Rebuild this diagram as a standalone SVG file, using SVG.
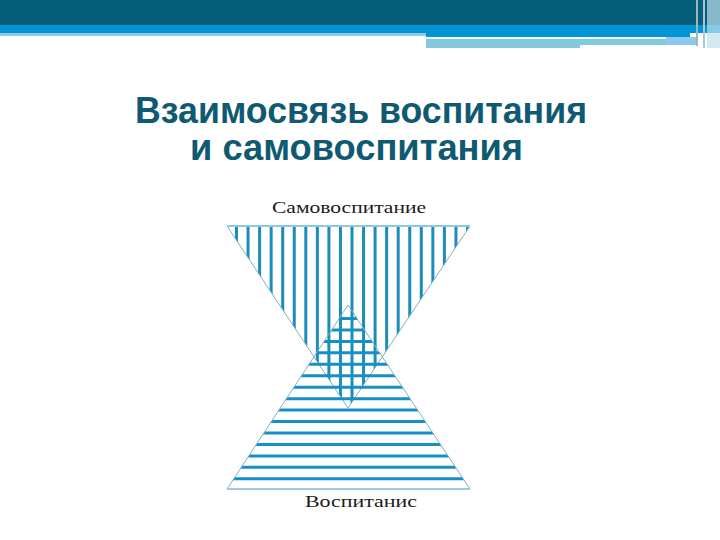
<svg xmlns="http://www.w3.org/2000/svg" width="720" height="540" viewBox="0 0 720 540">
<style>
.title{font-family:"Liberation Sans",Arial,sans-serif;font-weight:bold;font-size:36px;fill:#0f5a72;text-anchor:middle}
.lbl{font-family:"Liberation Serif","Times New Roman",serif;font-size:17px;fill:#1a1a1a;text-anchor:middle}
.vs{stroke:#1b8db8;stroke-width:3}
.hs{stroke:#1590c6;stroke-width:3}
.edge{fill:none;stroke:#7fb0c4;stroke-width:1}
</style>
<defs>
<clipPath id="cDown"><polygon points="227,226 470,226 348,408"/></clipPath>
<clipPath id="cUp"><polygon points="348,305 470,489 227,489"/></clipPath>
</defs>
<rect width="720" height="540" fill="#fff"/>
<g id="header">
<rect x="0" y="0" width="720" height="25" fill="#065e7a"/>
<rect x="0" y="25" width="720" height="8" fill="#0096d6"/>
<rect x="0" y="33" width="426" height="3" fill="#8ccbe6"/>
<rect x="426" y="33" width="264" height="4" fill="#0096d6"/>
<rect x="426" y="39" width="240" height="6" fill="#7fcbe0"/>
<rect x="426" y="45" width="154" height="3" fill="#8cc4e0"/>
<rect x="666" y="37" width="30" height="8" fill="#8fc8ec"/>
<rect x="696" y="0" width="2" height="46" fill="#9ab8c4"/>
<rect x="703" y="0" width="2" height="48" fill="#a8c8d4"/>
<rect x="707" y="0" width="13" height="48" fill="#bfe0f0" opacity="0.7"/>
</g>
<g id="title">
<text class="title" x="361" y="123" textLength="452" lengthAdjust="spacingAndGlyphs">Взаимосвязь воспитания</text>
<text class="title" x="356.5" y="160" textLength="333" lengthAdjust="spacingAndGlyphs">и самовоспитания</text>
</g>
<g id="self-education">
<g clip-path="url(#cDown)">
<line class="vs" x1="236.5" y1="226" x2="236.5" y2="410"/>
<line class="vs" x1="248.05" y1="226" x2="248.05" y2="410"/>
<line class="vs" x1="259.6" y1="226" x2="259.6" y2="410"/>
<line class="vs" x1="271.15" y1="226" x2="271.15" y2="410"/>
<line class="vs" x1="282.7" y1="226" x2="282.7" y2="410"/>
<line class="vs" x1="294.25" y1="226" x2="294.25" y2="410"/>
<line class="vs" x1="305.8" y1="226" x2="305.8" y2="410"/>
<line class="vs" x1="317.35" y1="226" x2="317.35" y2="410"/>
<line class="vs" x1="328.9" y1="226" x2="328.9" y2="410"/>
<line class="vs" x1="340.45" y1="226" x2="340.45" y2="410"/>
<line class="vs" x1="352" y1="226" x2="352" y2="410"/>
<line class="vs" x1="363.55" y1="226" x2="363.55" y2="410"/>
<line class="vs" x1="375.1" y1="226" x2="375.1" y2="410"/>
<line class="vs" x1="386.65" y1="226" x2="386.65" y2="410"/>
<line class="vs" x1="398.2" y1="226" x2="398.2" y2="410"/>
<line class="vs" x1="409.75" y1="226" x2="409.75" y2="410"/>
<line class="vs" x1="421.3" y1="226" x2="421.3" y2="410"/>
<line class="vs" x1="432.85" y1="226" x2="432.85" y2="410"/>
<line class="vs" x1="444.4" y1="226" x2="444.4" y2="410"/>
<line class="vs" x1="455.95" y1="226" x2="455.95" y2="410"/>
<line class="vs" x1="467.5" y1="226" x2="467.5" y2="410"/>
</g>
<polygon class="edge" points="227,226 470,226 348,408"/>
<line x1="227" y1="226" x2="470" y2="226" stroke="#8cc8e0" stroke-width="2"/>
<text class="lbl" x="349" y="213" textLength="154" lengthAdjust="spacingAndGlyphs">Самовоспитание</text>
</g>
<g id="education">
<g clip-path="url(#cUp)">
<line class="hs" x1="227" y1="318.5" x2="470" y2="318.5"/>
<line class="hs" x1="227" y1="329.95" x2="470" y2="329.95"/>
<line class="hs" x1="227" y1="341.4" x2="470" y2="341.4"/>
<line class="hs" x1="227" y1="352.85" x2="470" y2="352.85"/>
<line class="hs" x1="227" y1="364.3" x2="470" y2="364.3"/>
<line class="hs" x1="227" y1="375.75" x2="470" y2="375.75"/>
<line class="hs" x1="227" y1="387.2" x2="470" y2="387.2"/>
<line class="hs" x1="227" y1="398.65" x2="470" y2="398.65"/>
<line class="hs" x1="227" y1="410.1" x2="470" y2="410.1"/>
<line class="hs" x1="227" y1="421.55" x2="470" y2="421.55"/>
<line class="hs" x1="227" y1="433" x2="470" y2="433"/>
<line class="hs" x1="227" y1="444.45" x2="470" y2="444.45"/>
<line class="hs" x1="227" y1="455.9" x2="470" y2="455.9"/>
<line class="hs" x1="227" y1="467.35" x2="470" y2="467.35"/>
<line class="hs" x1="227" y1="478.8" x2="470" y2="478.8"/>
</g>
<polygon class="edge" points="348,305 470,489 227,489"/>
<line x1="227" y1="489" x2="470" y2="489" stroke="#8cc8e0" stroke-width="1.5"/>
<text class="lbl" x="361" y="507" textLength="112" lengthAdjust="spacingAndGlyphs">Воспитанис</text>
</g>
</svg>
